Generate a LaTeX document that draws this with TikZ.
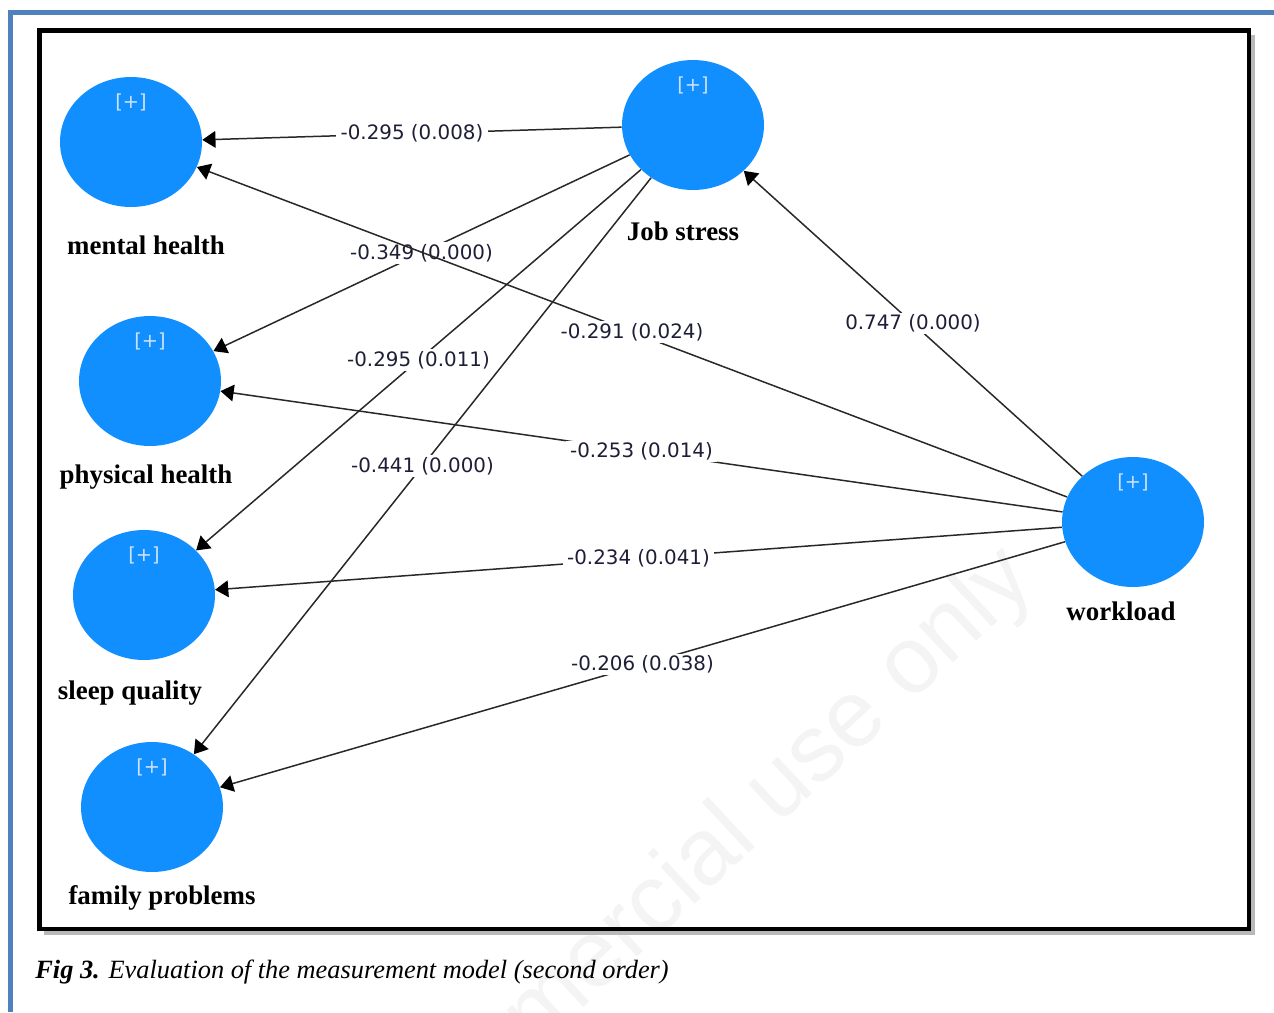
\documentclass[tikz,border=0pt]{standalone}
\usepackage{fontspec}
\setmainfont{Liberation Serif}
\newfontfamily\coeffont{DejaVu Sans}
\newfontfamily\markfont{Liberation Sans}
\usetikzlibrary{shapes.geometric, arrows.meta, positioning}
\definecolor{latentblue}{RGB}{18, 143, 255}
\definecolor{pageblue}{RGB}{79, 129, 189}
\definecolor{plusgray}{RGB}{205, 225, 250}
\definecolor{coefnavy}{RGB}{30, 30, 55}
\definecolor{pathgray}{RGB}{40, 40, 40}

\begin{document}
\begin{tikzpicture}[x=0.02cm, y=-0.02cm,
    latent/.style={ellipse, fill=latentblue, minimum width=2.84cm, minimum height=2.6cm,
        inner sep=0pt, label={[plusmark]center:{[+]}}},
    plusmark/.style={font=\coeffont\fontsize{11}{13}\selectfont, text=plusgray, yshift=0.8cm},
    varname/.style={font=\fontsize{15.3}{18}\selectfont\bfseries},
    coef/.style={font=\coeffont\fontsize{11.3}{13}\selectfont, text=coefnavy, fill=white,
        inner xsep=2.5pt, inner ysep=1pt},
    effect/.style={draw=pathgray, line width=0.85pt,
        -{Triangle[length=7.5pt, width=9.5pt, color=black]}}]
    \useasboundingbox (0,0) rectangle (1274,1012);

    % Watermark behind everything
    \begin{scope}
        \clip (0,0) rectangle (1274,1012);
        \node[font=\markfont\fontsize{54}{60}\selectfont, text=gray!9, rotate=43, anchor=base east]
            (watermark) at (1042,580) {Non-commercial use only};
    \end{scope}

    % Page rule and frame
    \draw[pageblue, line width=0.1cm] (10.5,1012) -- (10.5,12.5) -- (1274,12.5);
    \draw[gray!55, line width=0.08cm] (1253,35) -- (1253,933) -- (44,933);
    \draw[black, line width=0.09cm] (39.5,30.5) rectangle (1249,929);

    % Latent variables
    \node[latent] (mental)    at (131,142)  {};
    \node[latent] (physical)  at (150,381)  {};
    \node[latent] (sleep)     at (144,595)  {};
    \node[latent] (family)    at (152,807)  {};
    \node[latent] (jobstress) at (693,125)  {};
    \node[latent] (workload)  at (1133,522) {};

    % Variable names
    \node[varname] (mentalname)    at (146,245)  {mental health};
    \node[varname] (physicalname)  at (146,477)  {physical health};
    \node[varname] (sleepname)     at (130,693)  {sleep quality};
    \node[varname] (familyname)    at (162,898)  {family problems};
    \node[varname] (jobstressname) at (683,231)  {Job stress};
    \node[varname] (workloadname)  at (1121,611) {workload};

    % Path coefficients (p-values)
    \foreach \src/\dst/\val in {jobstress/mental/{-0.295 (0.008)},
                                jobstress/physical/{-0.349 (0.000)},
                                jobstress/sleep/{-0.295 (0.011)},
                                jobstress/family/{-0.441 (0.000)},
                                workload/jobstress/{0.747 (0.000)},
                                workload/physical/{-0.253 (0.014)},
                                workload/sleep/{-0.234 (0.041)},
                                workload/family/{-0.206 (0.038)},
                                workload/mental/{-0.291 (0.024)}} {
        \draw[effect] (\src) -- node[coef] {\val} (\dst);
    }

    % Caption
    \node[anchor=base west, inner sep=0pt, font=\fontsize{15}{18}\selectfont\itshape] (caption)
        at (35,978) {\textbf{Fig 3.} Evaluation of the measurement model (second order)};

\end{tikzpicture}
\end{document}
